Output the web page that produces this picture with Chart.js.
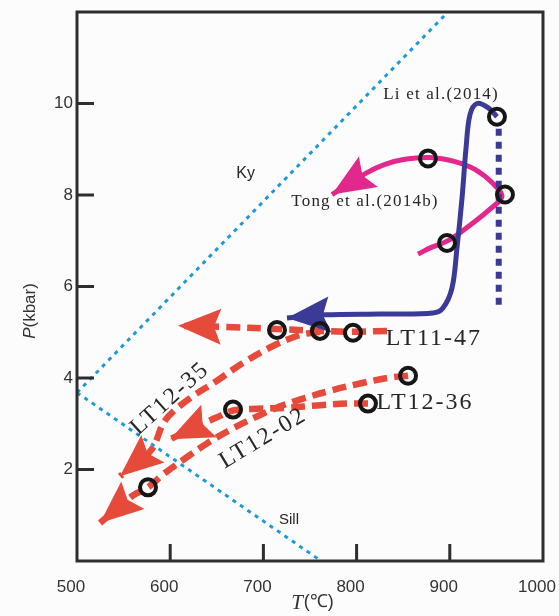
<!DOCTYPE html>
<html>
<head>
<meta charset="utf-8">
<script src="https://cdn.jsdelivr.net/npm/chart.js@4.4.1/dist/chart.umd.min.js"></script>
<style>
  html, body { margin: 0; padding: 0; background: #fcfcfc; }
</style>
</head>
<body>
<canvas id="ptChart" width="559" height="616"></canvas>
<script>
// values, as [T (°C), P (kbar)]
const tTicks = [500, 600, 700, 800, 900, 1000];
const pTicks = [2, 4, 6, 8, 10];

// Al2SiO5 reaction lines
const kySill = [[500, 3.68], [898, 12]];
const sillAnd = [[500, 3.68], [762, 0]];

const liPath = [
  [950.6, 9.71], [941.0, 9.91], [929.2, 10.0], [921.7, 9.76], [917.4, 9.02],
  [913.1, 7.93], [907.7, 6.84], [902.4, 5.97], [892.7, 5.53], [882.0, 5.42],
  [825.1, 5.40], [766.1, 5.38], [725.3, 5.31]
];
const liDrop = [[952.5, 9.45], [952.5, 5.6]];

const tongPath = [
  [865.9, 6.71], [880.9, 6.86], [897.0, 6.99], [921.7, 7.34], [943.1, 7.69],
  [956.0, 7.97], [946.4, 8.25], [927.0, 8.56], [905.6, 8.73], [878.8, 8.82],
  [851.9, 8.78], [830.5, 8.67], [811.2, 8.49], [773.6, 8.01]
];

const lt1147 = [[832.6, 5.03], [796.1, 5.01], [760.7, 5.03], [714.6, 5.07], [654.5, 5.12], [608.4, 5.14]];
const lt1235 = [
  [760.7, 5.01], [739.3, 4.94], [710.3, 4.70], [678.1, 4.33], [650.2, 3.94],
  [618.0, 3.51], [594.4, 3.07], [579.4, 2.42], [546.1, 1.85]
];
const lt1202 = [
  [855.2, 4.05], [835.8, 4.01], [803.6, 3.88], [771.5, 3.72], [742.5, 3.55],
  [717.8, 3.38], [693.1, 3.16], [667.4, 2.90], [642.7, 2.61], [615.9, 2.24],
  [592.3, 1.89], [576.2, 1.61], [559.0, 1.42], [524.7, 0.83]
];
const lt1236 = [
  [812.2, 3.44], [789.7, 3.44], [757.5, 3.40], [725.3, 3.35], [693.1, 3.33],
  [667.4, 3.29], [650.2, 3.14], [638.4, 3.03], [599.8, 2.66]
];

// open circles (samples)
const samples = [
  [950.6, 9.71], [876.6, 8.80], [897.0, 6.95], [959.2, 8.01],
  [714.6, 5.05], [760.7, 5.03], [796.1, 4.99],
  [855.2, 4.05], [812.2, 3.44], [667.4, 3.31], [576.2, 1.61]
];

const notes = [
  { text: "Ky", at: [681, 8.47], font: "16px 'Liberation Sans'", spacing: 0 },
  { text: "Sill", at: [727.5, 0.91], font: "15px 'Liberation Sans'", spacing: 0 },
  { text: "Li et al.(2014)", at: [890.6, 10.19], font: "17px 'Liberation Serif'", spacing: 1.2 },
  { text: "Tong et al.(2014b)", at: [809, 7.86], font: "17px 'Liberation Serif'", spacing: 1.2 },
  { text: "LT11-47", at: [883, 4.86], font: "24px 'Liberation Serif'", spacing: 2 },
  { text: "LT12-36", at: [873.4, 3.46], font: "24px 'Liberation Serif'", spacing: 2 },
  { text: "LT12-35", at: [599.8, 3.55], font: "24px 'Liberation Serif'", spacing: 2, angle: -42 },
  { text: "LT12-02", at: [699.6, 2.68], font: "24px 'Liberation Serif'", spacing: 2, angle: -31 }
];

const xy = arr => arr.map(([x, y]) => ({ x, y }));

const RED = "#e54a3a", INDIGO = "#3b3a96", PINK = "#e2288d", SKY = "#1d9ad6";

function pathSet(data, color, width, dash, order) {
  return {
    data: xy(data), showLine: true, borderColor: color, backgroundColor: color,
    borderWidth: width, borderDash: dash, tension: 0.35, pointRadius: 0,
    borderCapStyle: "butt", arrow: true, order
  };
}

const decor = {
  id: "decor",
  afterDatasetDraw(chart, args) {
    const ds = chart.data.datasets[args.index];
    if (!ds.arrow) return;
    const pts = args.meta.data;
    const a = pts[pts.length - 2], b = pts[pts.length - 1];
    const ctx = chart.ctx;
    ctx.save();
    ctx.translate(b.x, b.y);
    ctx.rotate(Math.atan2(b.y - a.y, b.x - a.x));
    ctx.beginPath();
    ctx.moveTo(0, 0);
    ctx.lineTo(-43, -18);
    ctx.lineTo(-36, 0);
    ctx.lineTo(-43, 18);
    ctx.closePath();
    ctx.fillStyle = ds.borderColor;
    ctx.fill();
    ctx.restore();
  },
  afterDraw(chart) {
    const ctx = chart.ctx, area = chart.chartArea;
    const sx = chart.scales.x, sy = chart.scales.y;
    ctx.save();

    // notes
    ctx.fillStyle = "#262626";
    ctx.textAlign = "center";
    ctx.textBaseline = "middle";
    notes.forEach(n => {
      ctx.save();
      ctx.font = n.font;
      ctx.letterSpacing = n.spacing + "px";
      ctx.translate(sx.getPixelForValue(n.at[0]), sy.getPixelForValue(n.at[1]));
      if (n.angle) ctx.rotate(n.angle * Math.PI / 180);
      ctx.fillText(n.text, 0, 0);
      ctx.restore();
    });

    // frame and inward ticks
    ctx.strokeStyle = "#2e2e2e";
    ctx.lineWidth = 3;
    ctx.strokeRect(area.left, area.top, area.right - area.left, area.bottom - area.top);
    ctx.beginPath();
    tTicks.filter(v => v > sx.min && v < sx.max).forEach(v => {
      const x = sx.getPixelForValue(v);
      ctx.moveTo(x, area.bottom);
      ctx.lineTo(x, area.bottom - 17);
    });
    pTicks.forEach(v => {
      const y = sy.getPixelForValue(v);
      ctx.moveTo(area.left, y);
      ctx.lineTo(area.left + 17, y);
    });
    ctx.stroke();

    // axis titles
    ctx.fillStyle = "#333";
    ctx.textBaseline = "middle";
    ctx.textAlign = "left";
    ctx.save();
    ctx.translate(30, 311);
    ctx.rotate(-Math.PI / 2);
    ctx.font = "italic 17px 'Liberation Sans'";
    const w1 = ctx.measureText("P").width;
    ctx.font = "17px 'Liberation Sans'";
    const w2 = ctx.measureText("(kbar)").width;
    ctx.font = "italic 17px 'Liberation Sans'";
    ctx.fillText("P", -(w1 + w2) / 2, 0);
    ctx.font = "17px 'Liberation Sans'";
    ctx.fillText("(kbar)", -(w1 + w2) / 2 + w1, 0);
    ctx.restore();

    ctx.font = "italic 21px 'Liberation Serif'";
    const t1 = ctx.measureText("T").width;
    ctx.font = "18px 'Liberation Sans'";
    const t2 = ctx.measureText("(℃)").width;
    const x0 = 312 - (t1 + t2) / 2;
    ctx.font = "italic 21px 'Liberation Serif'";
    ctx.fillText("T", x0, 603);
    ctx.font = "18px 'Liberation Sans'";
    ctx.fillText("(℃)", x0 + t1 + 1, 602);
    ctx.restore();
  }
};

new Chart(document.getElementById("ptChart"), {
  type: "scatter",
  data: {
    datasets: [
      { data: xy(samples), showLine: false, pointRadius: 8, pointBorderWidth: 4,
        pointBorderColor: "#161616", pointBackgroundColor: "rgba(0,0,0,0)", order: 1 },
      pathSet(liPath, INDIGO, 5, [], 2),
      { data: xy(liDrop), showLine: true, borderColor: INDIGO, borderWidth: 6,
        borderDash: [7, 6], pointRadius: 0, order: 3 },
      pathSet(tongPath, PINK, 5, [], 4),
      pathSet(lt1147, RED, 6.5, [14, 7], 5),
      pathSet(lt1235, RED, 6.5, [14, 7], 5),
      pathSet(lt1202, RED, 6.5, [14, 7], 5),
      pathSet(lt1236, RED, 6.5, [14, 7], 5),
      { data: xy(kySill), showLine: true, borderColor: SKY, borderWidth: 3,
        borderDash: [4, 5], pointRadius: 0, order: 9 },
      { data: xy(sillAnd), showLine: true, borderColor: SKY, borderWidth: 3,
        borderDash: [4, 5], pointRadius: 0, order: 9 }
    ]
  },
  options: {
    responsive: false,
    animation: false,
    events: [],
    layout: { padding: { top: 10, right: 16, left: 0, bottom: 0 } },
    plugins: { legend: { display: false }, tooltip: { enabled: false } },
    scales: {
      x: {
        type: "linear", min: 500, max: 1000,
        afterBuildTicks: s => { s.ticks = tTicks.map(v => ({ value: v })); },
        afterFit: s => { s.height = 55; s.paddingLeft = 0; s.paddingRight = 0; },
        grid: { display: false, drawTicks: false },
        border: { display: false },
        ticks: { padding: 16, labelOffset: -6, color: "#333", maxRotation: 0, autoSkip: false,
                 font: { family: "Liberation Sans", size: 17 }, callback: v => String(v) }
      },
      y: {
        type: "linear", min: 0, max: 12,
        afterBuildTicks: s => { s.ticks = pTicks.map(v => ({ value: v })); },
        afterFit: s => { s.width = 77; s.paddingTop = 0; s.paddingBottom = 0; },
        grid: { display: false, drawTicks: false },
        border: { display: false },
        ticks: { padding: 4, color: "#333",
                 font: { family: "Liberation Sans", size: 17 }, callback: v => String(v) }
      }
    }
  },
  plugins: [decor]
});
</script>
</body>
</html>
